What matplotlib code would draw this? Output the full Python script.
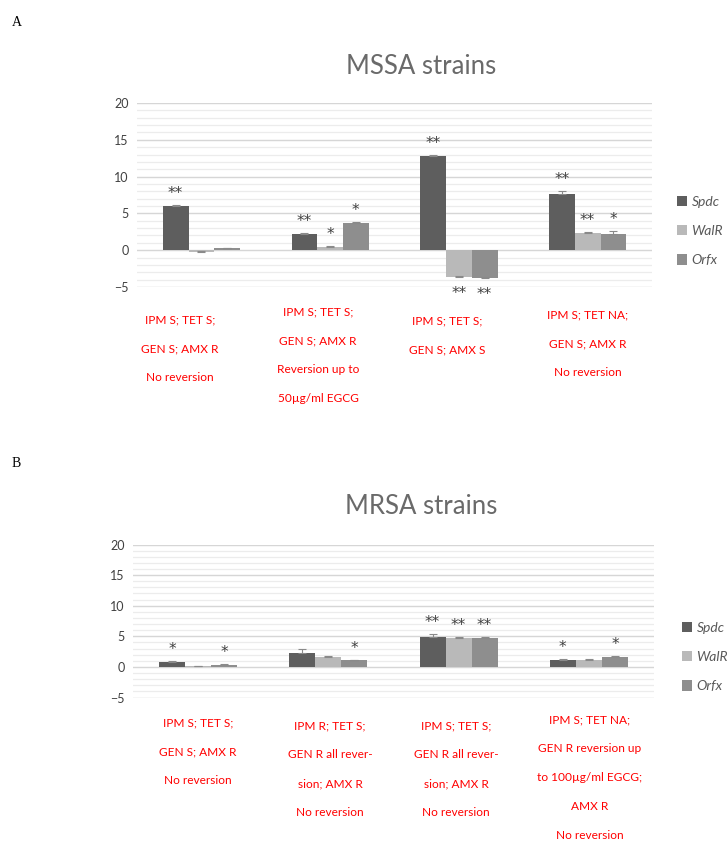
import matplotlib
matplotlib.use("Agg")
import matplotlib.pyplot as plt
import numpy as np

# ---------------- data ----------------
series = ["Spdc", "WalR", "Orfx"]

labels_A = ["IPM S; TET S;\nGEN S; AMX R\nNo reversion",
            "IPM S; TET S;\nGEN S; AMX R\nReversion up to\n50µg/ml EGCG",
            "IPM S; TET S;\nGEN S; AMX S",
            "IPM S; TET NA;\nGEN S; AMX R\nNo reversion"]
spdc_A = [6.0, 2.15, 12.8, 7.7]
walr_A = [-0.2, 0.4, -3.6, 2.4]
orfx_A = [0.25, 3.65, -3.8, 2.15]
spdc_A_err = [0.2, 0.15, 0.12, 0.35]
walr_A_err = [0.05, 0.12, 0.15, 0.1]
orfx_A_err = [0.1, 0.15, 0.15, 0.45]
stars_A = [["**", "", ""], ["**", "*", "*"], ["**", "**", "**"], ["**", "**", "*"]]

labels_B = ["IPM S; TET S;\nGEN S; AMX R\nNo reversion",
            "IPM R; TET S;\nGEN R all rever-\nsion; AMX R\nNo reversion",
            "IPM S; TET S;\nGEN R all rever-\nsion; AMX R\nNo reversion",
            "IPM S; TET NA;\nGEN R reversion up\nto 100µg/ml EGCG;\nAMX R\nNo reversion"]
spdc_B = [0.8, 2.3, 4.9, 1.2]
walr_B = [0.15, 1.6, 4.75, 1.15]
orfx_B = [0.3, 1.05, 4.7, 1.6]
spdc_B_err = [0.15, 0.6, 0.4, 0.15]
walr_B_err = [0.05, 0.25, 0.15, 0.15]
orfx_B_err = [0.1, 0.1, 0.12, 0.15]
stars_B = [["*", "", "*"], ["", "", "*"], ["**", "**", "**"], ["*", "", "*"]]

# ---------------- style ----------------
W, H = 727, 847
DPI = 100
colors = ["#5e5e5e", "#b9b9b9", "#8e8e8e"]
txt_gray = "#595959"
FONT = "Lato"

fig = plt.figure(figsize=(W / DPI, H / DPI), dpi=DPI)


def fx(x):
    return x / W


def fy(y):
    return 1 - y / H


def panel(rect, title, title_y, vals, errs, stars, labels, lab_x, lab_y, leg_xy):
    left, right, ytop, ybot = rect
    ax = fig.add_axes([fx(left), fy(ybot), fx(right - left), (ybot - ytop) / H])
    ax.set_xlim(-0.5, 3.5)
    ax.set_ylim(-5, 20)
    ax.set_yticks([-5, 0, 5, 10, 15, 20])
    ax.set_yticks(np.arange(-5, 21, 1), minor=True)
    ax.grid(axis="y", which="minor", color="#ececec", lw=0.9)
    ax.grid(axis="y", which="major", color="#d6d6d6", lw=1.0)
    ax.set_axisbelow(True)
    for s in ax.spines.values():
        s.set_visible(False)
    ax.tick_params(axis="both", which="both", length=0)
    ax.set_xticks([])
    for t in ax.get_yticklabels():
        t.set_fontfamily(FONT)
        t.set_fontsize(9)
        t.set_color("#404040")
    ax.tick_params(axis="y", pad=6)

    x = np.arange(4)
    w = 0.2
    for i, (v, e, c, name) in enumerate(zip(vals, errs, colors, series)):
        xi = x + (i - 1) * w
        ax.bar(xi, v, width=w, color=c, label=name, zorder=2)
        lower = [0.0] * 4
        ax.errorbar(xi, v, yerr=[lower, e], fmt="none",
                    ecolor="#8a8a8a", elinewidth=0.8, capsize=3, capthick=0.8, zorder=3)
        for j in range(4):
            st = stars[j][i]
            if not st:
                continue
            if v[j] >= 0:
                ax.annotate(st, (xi[j], v[j] + e[j]), xytext=(0, 4),
                            textcoords="offset pixels", ha="center", va="bottom",
                            fontsize=11, color="#404040", family="DejaVu Sans")
            else:
                ax.annotate(st, (xi[j], v[j] - e[j]), xytext=(0, -8),
                            textcoords="offset pixels", ha="center", va="top",
                            fontsize=11, color="#404040", family="DejaVu Sans")

    fig.text(fx(421), fy(title_y), title, ha="center", va="center",
             fontsize=18.5, color="#6a6a6a", family=FONT)

    for lab, lx, ly in zip(labels, lab_x, lab_y):
        fig.text(fx(lx), fy(ly), lab, ha="center", va="top", fontsize=8.6,
                 color="#ff0000", family=FONT, linespacing=3.0)

    leg = ax.legend(loc="center left", bbox_to_anchor=(fx(leg_xy[0]), fy(leg_xy[1])),
                    bbox_transform=fig.transFigure, frameon=False,
                    handlelength=0.75, handleheight=0.75, handletextpad=0.3,
                    labelspacing=1.25, borderpad=0, borderaxespad=0,
                    prop={"family": FONT, "style": "italic", "size": 10})
    for t in leg.get_texts():
        t.set_color(txt_gray)
    return ax


panel((137, 652, 103, 287), "MSSA strains", 66,
      [spdc_A, walr_A, orfx_A], [spdc_A_err, walr_A_err, orfx_A_err], stars_A,
      labels_A, [180, 318, 447, 588], [314, 306, 315, 309], (677, 231))

panel((133, 654, 544.5, 697.5), "MRSA strains", 506,
      [spdc_B, walr_B, orfx_B], [spdc_B_err, walr_B_err, orfx_B_err], stars_B,
      labels_B, [198, 330, 456, 590], [717, 720, 720, 714], (682, 657))

fig.text(fx(12), fy(22), "A", family="Liberation Serif", fontsize=10, va="center")
fig.text(fx(12), fy(463), "B", family="Liberation Serif", fontsize=10, va="center")

fig.savefig("out.png", dpi=DPI)
